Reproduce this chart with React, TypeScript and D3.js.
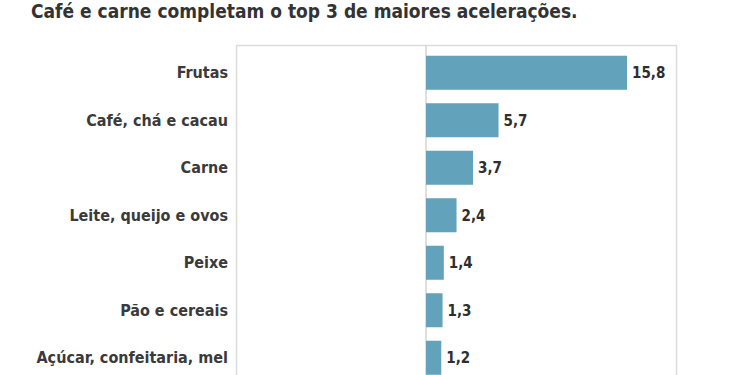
import { useEffect, useRef } from 'react'
import * as d3 from 'd3'

const title = 'Café e carne completam o top 3 de maiores acelerações.'
const categories = [
  'Frutas',
  'Café, chá e cacau',
  'Carne',
  'Leite, queijo e ovos',
  'Peixe',
  'Pão e cereais',
  'Açúcar, confeitaria, mel',
]
const values = [15.8, 5.7, 3.7, 2.4, 1.4, 1.3, 1.2]

const font = '"DejaVu Sans Condensed", "DejaVu Sans", sans-serif'

export default function App() {
  const ref = useRef<SVGSVGElement>(null)

  useEffect(() => {
    if (!ref.current) return
    const svg = d3.select(ref.current)
    svg.selectAll('*').remove()

    const width = 750
    const height = 375

    const x = d3.scaleLinear()
      .domain([0, d3.max(values) as number])
      .range([426, 627])

    const step = 47.5
    const y = d3.scaleBand<string>()
      .domain(categories)
      .range([49, 49 + categories.length * step])
      .paddingInner(0.284)
      .paddingOuter(0.142)

    svg.append('rect')
      .attr('width', width)
      .attr('height', height)
      .attr('fill', '#ffffff')

    svg.append('text')
      .attr('x', 31)
      .attr('y', 18)
      .attr('font-family', font)
      .attr('font-weight', 'bold')
      .attr('font-size', 19)
      .attr('fill', '#333333')
      .text(title)

    // frame
    svg.append('rect')
      .attr('x', 236.5)
      .attr('y', 45.5)
      .attr('width', 440)
      .attr('height', 360)
      .attr('fill', 'none')
      .attr('stroke', '#dcdcdc')
      .attr('stroke-width', 1.5)

    svg.append('line')
      .attr('x1', x(0))
      .attr('x2', x(0))
      .attr('y1', 45.5)
      .attr('y2', height)
      .attr('stroke', '#d4d4d4')
      .attr('stroke-width', 1.5)

    const rows = categories.map((c, i) => ({ c, v: values[i] }))

    svg.append('g')
      .selectAll('rect')
      .data(rows)
      .enter()
      .append('rect')
      .attr('x', x(0))
      .attr('y', d => y(d.c) as number)
      .attr('width', d => x(d.v) - x(0))
      .attr('height', y.bandwidth())
      .attr('fill', '#62a2ba')

    svg.append('g')
      .selectAll('text')
      .data(rows)
      .enter()
      .append('text')
      .attr('x', d => x(d.v) + 5)
      .attr('y', d => (y(d.c) as number) + y.bandwidth() / 2)
      .attr('dy', '0.35em')
      .attr('font-family', font)
      .attr('font-weight', 'bold')
      .attr('font-size', 15)
      .attr('fill', '#2e2e2e')
      .text(d => d3.format('.1f')(d.v).replace('.', ','))

    svg.append('g')
      .selectAll('text')
      .data(rows)
      .enter()
      .append('text')
      .attr('x', 228)
      .attr('y', d => (y(d.c) as number) + y.bandwidth() / 2)
      .attr('dy', '0.35em')
      .attr('text-anchor', 'end')
      .attr('font-family', font)
      .attr('font-weight', 'bold')
      .attr('font-size', 16)
      .attr('fill', '#3a3a3a')
      .text(d => d.c)
  }, [])

  return (
    <svg
      ref={ref}
      width="750"
      height="375"
      style={{ position: 'fixed', top: 0, left: 0, display: 'block' }}
    ></svg>
  )
}
